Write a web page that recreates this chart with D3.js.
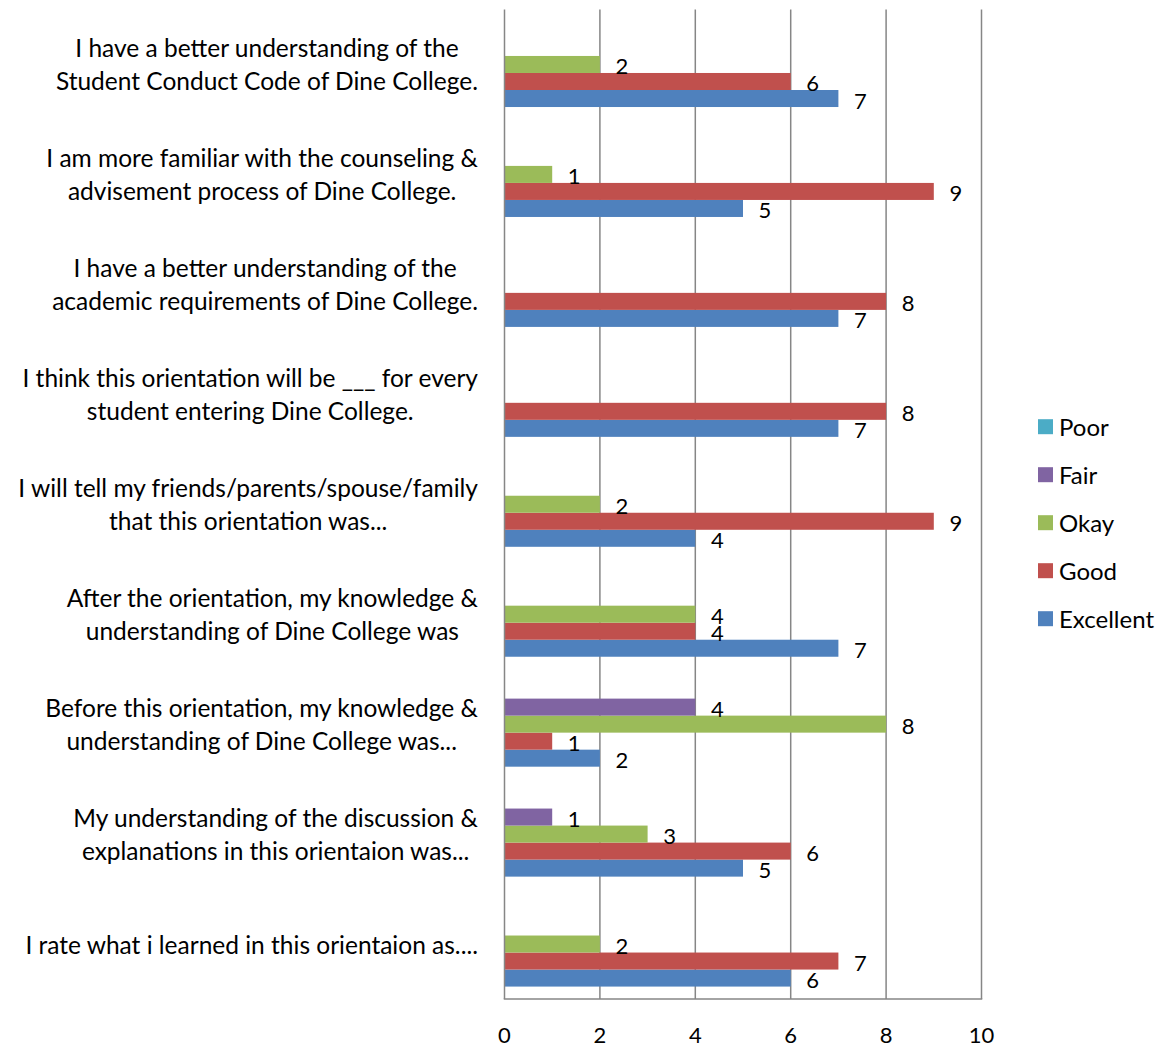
<!DOCTYPE html>
<html>
<head>
<meta charset="utf-8">
<script src="https://cdn.jsdelivr.net/npm/d3@7"></script>
<style>
  html, body { margin: 0; padding: 0; background: #fff; }
  svg { display: block; }
  text { font-family: Lato, "Open Sans", sans-serif; fill: #000; }
</style>
</head>
<body>
<svg id="chart" width="1162" height="1049"></svg>
<script>
// Categories (top to bottom), each with its wrapped lines
const categories = [
  "I have a better understanding of the\nStudent Conduct Code of Dine College.",
  "I am more familiar with the counseling &\nadvisement process of Dine College.",
  "I have a better understanding of the\nacademic requirements of Dine College.",
  "I think this orientation will be ___ for every\nstudent entering Dine College.",
  "I will tell my friends/parents/spouse/family\nthat this orientation was...",
  "After the orientation, my knowledge &\nunderstanding of Dine College was",
  "Before this orientation, my knowledge &\nunderstanding of Dine College was...",
  "My understanding of the discussion &\nexplanations in this orientaion was...",
  "I rate what i learned in this orientaion as...."
];
const seriesNames = ["Excellent", "Good", "Okay", "Fair", "Poor"];
const excellent = [7, 5, 7, 7, 4, 7, 2, 5, 6];
const good      = [6, 9, 8, 8, 9, 4, 1, 6, 7];
const okay      = [2, 1, 0, 0, 2, 4, 8, 3, 2];
const fair      = [0, 0, 0, 0, 0, 0, 4, 1, 0];
const poor      = [0, 0, 0, 0, 0, 0, 0, 0, 0];
const xTicks = [0, 2, 4, 6, 8, 10];
const colors = { Excellent: "#4F81BD", Good: "#C0504D", Okay: "#9BBB59", Fair: "#8064A2", Poor: "#4BACC6" };

const seriesValues = { Excellent: excellent, Good: good, Okay: okay, Fair: fair, Poor: poor };

const svg = d3.select("#chart");
const pLeft = 504.5, pRight = 981.5, pTop = 9.5, pBottom = 999;
const FS = 22, CAT_FS = 24.5, LEG_FS = 24;

const x = d3.scaleLinear().domain([0, 10]).range([pLeft, pRight]);
const y = d3.scaleBand().domain(categories).range([pTop, pBottom]).paddingInner(0.226).paddingOuter(0.113);
const sub = d3.scaleBand().domain(["Poor", "Fair", "Okay", "Good", "Excellent"]).range([0, y.bandwidth()]);

// gridlines
svg.append("g").selectAll("line").data(xTicks.slice(1)).join("line")
  .attr("x1", d => x(d)).attr("x2", d => x(d))
  .attr("y1", pTop).attr("y2", pBottom)
  .attr("stroke", "#868686").attr("stroke-width", 1.5);

// bars
const flat = [];
categories.forEach((c, i) => {
  seriesNames.forEach(s => flat.push({ cat: c, s, v: seriesValues[s][i] }));
});
svg.append("g").selectAll("rect").data(flat.filter(d => d.v > 0)).join("rect")
  .attr("x", x(0))
  .attr("y", d => y(d.cat) + sub(d.s))
  .attr("width", d => x(d.v) - x(0))
  .attr("height", sub.bandwidth())
  .attr("fill", d => colors[d.s]);

// value labels
svg.append("g").selectAll("text").data(flat.filter(d => d.v > 0)).join("text")
  .attr("x", d => x(d.v) + 22)
  .attr("y", d => y(d.cat) + sub(d.s) + sub.bandwidth() / 2 + 1.5)
  .attr("text-anchor", "middle")
  .attr("dominant-baseline", "central")
  .attr("font-size", FS)
  .text(d => d.v);

// axes lines
svg.append("line").attr("x1", pLeft).attr("x2", pLeft).attr("y1", pTop).attr("y2", pBottom)
  .attr("stroke", "#868686").attr("stroke-width", 1.5);
svg.append("line").attr("x1", pLeft - 0.75).attr("x2", pRight + 0.75).attr("y1", pBottom).attr("y2", pBottom)
  .attr("stroke", "#868686").attr("stroke-width", 1.5);

// x tick labels
svg.append("g").selectAll("text").data(xTicks).join("text")
  .attr("x", d => x(d)).attr("y", 1034)
  .attr("text-anchor", "middle").attr("dominant-baseline", "central")
  .attr("font-size", FS)
  .text(d => d);

// category labels: centered block whose right edge is at 478
const catG = svg.append("g");
categories.forEach(c => {
  const lines = c.split("\n");
  const g = catG.append("g");
  const ts = lines.map(l => g.append("text").attr("font-size", CAT_FS).attr("text-anchor", "middle")
    .attr("dominant-baseline", "central").text(l));
  const maxW = d3.max(ts, t => t.node().getComputedTextLength());
  const cx = 478 - maxW / 2;
  const cy = y(c) + y.bandwidth() / 2;
  const lh = 33;
  ts.forEach((t, i) => t.attr("x", cx).attr("y", cy + (i - (lines.length - 1) / 2) * lh));
});

// legend
const legendOrder = ["Poor", "Fair", "Okay", "Good", "Excellent"];
const lg = svg.append("g").selectAll("g").data(legendOrder).join("g")
  .attr("transform", (d, i) => `translate(1038, ${426.7 + i * 48})`);
lg.append("rect").attr("x", 0).attr("y", -7.5).attr("width", 15).attr("height", 15).attr("fill", d => colors[d]);
lg.append("text").attr("x", 21).attr("y", 0).attr("dominant-baseline", "central")
  .attr("font-size", LEG_FS).text(d => d);
</script>
</body>
</html>
